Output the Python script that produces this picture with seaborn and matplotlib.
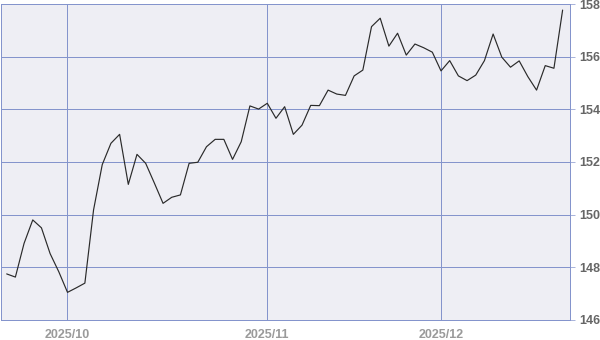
import matplotlib
matplotlib.use("Agg")
import matplotlib.pyplot as plt
import seaborn as sns
import pandas as pd
import numpy as np

# ---- data ----
start_date = "2025-09-22"
end_date = "2025-12-19"
values = [
    147.75, 147.63, 148.91, 149.80, 149.50, 148.52, 147.83, 147.05, 147.22, 147.40,
    150.18, 151.90, 152.71, 153.05, 151.15, 152.29, 151.95, 151.20, 150.43, 150.66,
    150.75, 151.95, 151.99, 152.58, 152.86, 152.86, 152.10, 152.77, 154.13, 154.01,
    154.23, 153.66, 154.10, 153.05, 153.40, 154.15, 154.14, 154.73, 154.58, 154.53,
    155.27, 155.49, 157.14, 157.46, 156.40, 156.89, 156.06, 156.48, 156.34, 156.17,
    155.46, 155.85, 155.27, 155.09, 155.30, 155.85, 156.86, 155.98, 155.60, 155.84,
    155.24, 154.73, 155.66, 155.56, 157.77,
]
y_ticks = [146, 148, 150, 152, 154, 156, 158]
month_labels = ["2025/10", "2025/11", "2025/12"]

dates = pd.bdate_range(start_date, end_date)
df = pd.DataFrame({"date": dates, "pos": np.arange(len(dates)), "value": values})

# month-start (first trading day) and Monday ticks
first_days = df.groupby(df["date"].dt.to_period("M"))["pos"].min()
month_pos = [p for p in first_days.values if p > 0]
monday_pos = [p for p in df.loc[df["date"].dt.weekday == 0, "pos"] if p > 0 and p not in month_pos]

sns.set_style("white")
plt.rcParams["font.family"] = ["Liberation Sans", "DejaVu Sans"]

grid_c = "#8494CC"
bg_c = "#EEEEF4"
lw = 0.5

fig = plt.figure(figsize=(6.0, 3.4), dpi=100)
ax = fig.add_axes([0.0015, 1 - 320 / 340, 570 / 600 - 0.0015, (320 - 4) / 340])
ax.set_facecolor(bg_c)

sns.lineplot(data=df, x="pos", y="value", ax=ax, color="#2a2a2a", linewidth=0.85, zorder=3)

ax.set_xlim(-0.667, 64.85)
ax.set_ylim(146, 158)

ax.set_yticks(y_ticks)
ax.set_yticklabels([str(t) for t in y_ticks])
ax.yaxis.tick_right()
ax.tick_params(axis="y", which="major", direction="out", length=3.6, width=lw,
               color=grid_c, pad=3, labelsize=9, labelcolor="#666666")
for lab in ax.get_yticklabels():
    lab.set_fontweight("bold")

ax.set_xticks(month_pos)
ax.set_xticklabels(month_labels)
ax.set_xticks(monday_pos, minor=True)
ax.tick_params(axis="x", which="major", direction="out", length=5.8, width=lw,
               color=grid_c, pad=1, labelsize=9, labelcolor="#9a9a9a")
ax.tick_params(axis="x", which="minor", direction="out", length=2.9, width=lw,
               color=grid_c)
for lab in ax.get_xticklabels():
    lab.set_fontweight("bold")

ax.grid(True, which="major", color=grid_c, linewidth=lw, zorder=1, antialiased=False)
ax.set_axisbelow(True)
for s in ax.spines.values():
    s.set_color(grid_c)
    s.set_linewidth(lw)
    s.set_antialiased(False)

ax.set_xlabel("")
ax.set_ylabel("")

fig.savefig("out.png", dpi=100, facecolor="white")
